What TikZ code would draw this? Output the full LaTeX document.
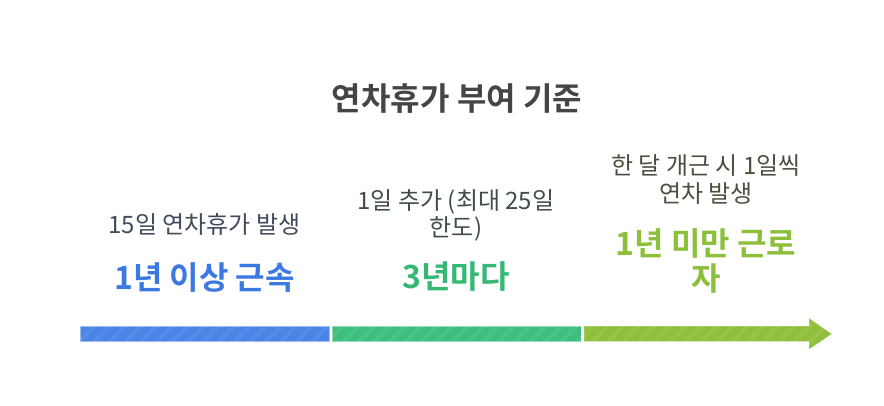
\documentclass[tikz,border=0pt]{standalone}
\usepackage{fontspec}
\setmainfont{Noto Sans CJK KR}
\newfontfamily\krbold{Noto Sans CJK KR Bold}
\usetikzlibrary{patterns.meta}
\definecolor{cblue}{HTML}{4A84E6}
\definecolor{cgreen}{HTML}{3CBF7E}
\definecolor{clime}{HTML}{8FBF3B}
\definecolor{tblue}{HTML}{3B78E2}
\definecolor{tgreen}{HTML}{34B874}
\definecolor{tlime}{HTML}{8DC03A}
\definecolor{sblue}{HTML}{414B5E}
\definecolor{sgreen}{HTML}{3F4F47}
\definecolor{slime}{HTML}{4A503E}
\definecolor{ttl}{HTML}{454545}
\tikzset{
  sub/.style={font=\fontsize{24}{27.5}\selectfont, align=center, inner sep=0pt},
  big/.style={font=\krbold\fontsize{32}{35}\selectfont, align=center, inner sep=0pt},
  bar/.style={draw=white, draw opacity=0.45, line width=0.8pt},
  stripes/.style={pattern={Lines[angle=45,distance=11pt,line width=4pt]}, pattern color=white, opacity=0.07}
}
\begin{document}
\begin{tikzpicture}[x=1pt,y=-1pt]
\useasboundingbox[fill=white] (0,0) rectangle (884,405);
% title
\node[font=\krbold\fontsize{32}{36}\selectfont, text=ttl, inner sep=0pt] (title) at (457,99) {연차휴가 부여 기준};
% bars
\path[bar, fill=cblue] (80,326) rectangle (329.5,341.5);
\fill[stripes] (80,326) rectangle (329.5,341.5);
\path[bar, fill=cgreen] (332,326) rectangle (581,341.5);
\fill[stripes] (332,326) rectangle (581,341.5);
\path[bar, fill=clime] (584,326) -- (809,326) -- (809,318) -- (832,334) -- (809,349.5) -- (809,341.5) -- (584,341.5) -- cycle;
\fill[stripes] (584,326) -- (809,326) -- (809,318) -- (832,334) -- (809,349.5) -- (809,341.5) -- (584,341.5) -- cycle;
% texts stage 1
\node[sub, text=sblue] (s1) at (204.5,224) {15일 연차휴가 발생};
\node[big, text=tblue] (b1) at (204.5,278) {1년 이상 근속};
% stage 2
\node[sub, text=sgreen] (s2) at (456,215.5) {1일 추가 (최대 25일\\한도)};
\node[big, text=tgreen] (b2) at (456,277) {3년마다};
% stage 3
\node[sub, text=slime] (s3) at (706,179.5) {한 달 개근 시 1일씩\\연차 발생};
\node[big, text=tlime] (b3) at (706,260.5) {1년 미만 근로\\자};
\end{tikzpicture}
\end{document}
